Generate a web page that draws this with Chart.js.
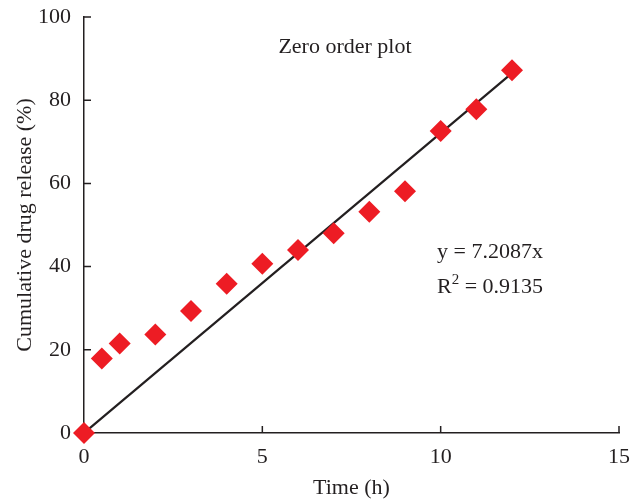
<!DOCTYPE html>
<html>
<head>
<meta charset="utf-8">
<script src="https://cdn.jsdelivr.net/npm/chart.js@4.4.1/dist/chart.umd.min.js"></script>
<style>
  html, body { margin: 0; padding: 0; background: #fff; }
  #wrap { width: 641px; height: 501px; }
</style>
</head>
<body>
<div id="wrap"><canvas id="releaseChart" width="641" height="501"></canvas></div>
<script>
// Data
const timeHours = [0, 0.5, 1, 2, 3, 4, 5, 6, 7, 8, 9, 10, 11, 12];
const releasePct = [0, 17.9, 21.5, 23.7, 29.3, 35.9, 40.7, 44.0, 48.0, 53.2, 58.1, 72.6, 77.8, 87.2];
const trendX = [0, 12];
const trendY = [0, 86.5];
const xTicks = [0, 5, 10, 15];
const yTicks = [0, 20, 40, 60, 80, 100];
const titleText = "Zero order plot";
const eqText = "y = 7.2087x";
const r2Value = "0.9135";

const ink = "#231F20";
const serif = "'Liberation Serif', 'Times New Roman', serif";

// tick marks pointing into the plot, plus title and fit annotation
const decorations = {
  id: "decorations",
  beforeDatasetsDraw(chart) {
    const { ctx, chartArea, scales: { x, y } } = chart;
    ctx.save();
    ctx.strokeStyle = ink;
    ctx.lineWidth = 1.5;
    ctx.beginPath();
    x.ticks.forEach(t => {
      const px = x.getPixelForValue(t.value);
      ctx.moveTo(px, chartArea.bottom);
      ctx.lineTo(px, chartArea.bottom - 7);
    });
    y.ticks.forEach(t => {
      const py = y.getPixelForValue(t.value);
      ctx.moveTo(chartArea.left, py);
      ctx.lineTo(chartArea.left + 7, py);
    });
    ctx.stroke();
    ctx.restore();
  },
  afterDraw(chart) {
    const { ctx } = chart;
    ctx.save();
    ctx.fillStyle = ink;
    ctx.textBaseline = "alphabetic";
    ctx.font = "22px " + serif;
    ctx.textAlign = "center";
    ctx.fillText(titleText, 345, 53);

    ctx.textAlign = "left";
    ctx.fillText(eqText, 437, 258);
    // R² with a raised 2
    let cx = 437;
    ctx.fillText("R", cx, 293);
    cx += ctx.measureText("R").width;
    ctx.font = "15px " + serif;
    ctx.fillText("2", cx, 284);
    cx += ctx.measureText("2").width;
    ctx.font = "22px " + serif;
    ctx.fillText(" = " + r2Value, cx, 293);
    ctx.restore();
  }
};

const ctx = document.getElementById("releaseChart").getContext("2d");
new Chart(ctx, {
  type: "scatter",
  data: {
    datasets: [
      {
        label: "Fit",
        type: "line",
        data: trendX.map((v, i) => ({ x: v, y: trendY[i] })),
        borderColor: ink,
        borderWidth: 2.2,
        pointRadius: 0,
        fill: false,
        order: 2
      },
      {
        label: "Release",
        data: timeHours.map((v, i) => ({ x: v, y: releasePct[i] })),
        pointStyle: "rectRot",
        pointRadius: 11,
        pointHoverRadius: 11,
        backgroundColor: "#ED1C24",
        borderColor: "#ED1C24",
        borderWidth: 0,
        clip: false,
        order: 1
      }
    ]
  },
  options: {
    responsive: false,
    animation: false,
    layout: { padding: { top: 17, right: 22, left: 0, bottom: 0 } },
    plugins: {
      legend: { display: false },
      tooltip: { enabled: false },
      title: { display: false }
    },
    scales: {
      x: {
        type: "linear",
        min: 0,
        max: 15,
        afterBuildTicks: s => { s.ticks = xTicks.map(v => ({ value: v })); },
        afterFit: s => { s.height = 68; s.paddingLeft = 0; s.paddingRight = 0; },
        grid: { drawOnChartArea: false, drawTicks: false },
        border: { color: ink, width: 1.5 },
        ticks: { color: ink, padding: 11, font: { family: serif, size: 22 } },
        title: {
          display: true,
          text: "Time (h)",
          color: ink,
          padding: { top: 2, bottom: 0 },
          font: { family: serif, size: 22 }
        }
      },
      y: {
        type: "linear",
        min: 0,
        max: 100,
        afterBuildTicks: s => { s.ticks = yTicks.map(v => ({ value: v })); },
        afterFit: s => { s.width = 84; s.paddingTop = 0; s.paddingBottom = 0; },
        grid: { drawOnChartArea: false, drawTicks: false },
        border: { color: ink, width: 1.5 },
        ticks: { color: ink, padding: 13, font: { family: serif, size: 22 } },
        title: {
          display: true,
          text: "Cumulative drug release (%)",
          color: ink,
          padding: { top: 12, bottom: 0 },
          font: { family: serif, size: 22 }
        }
      }
    }
  },
  plugins: [decorations]
});
</script>
</body>
</html>
